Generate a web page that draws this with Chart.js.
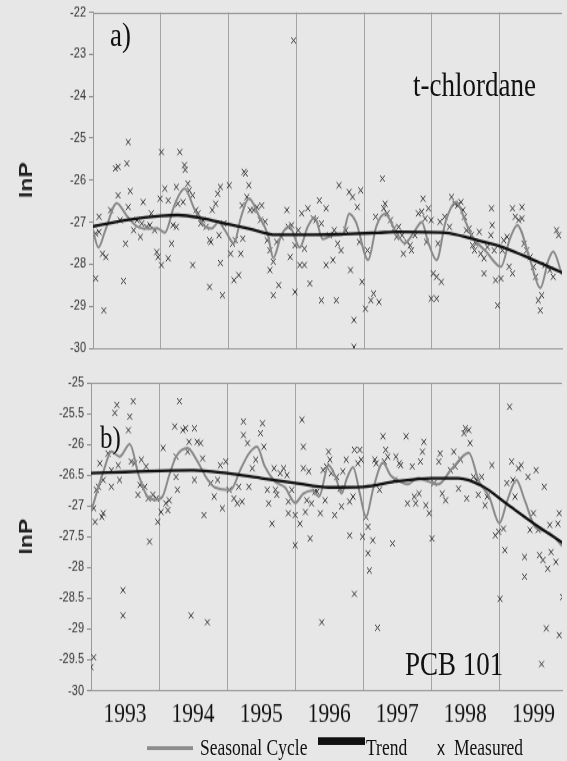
<!DOCTYPE html>
<html>
<head>
<meta charset="utf-8">
<script src="https://cdn.jsdelivr.net/npm/chart.js@4.4.1/dist/chart.umd.min.js"></script>
<style>
html, body { margin: 0; padding: 0; background: #e7e7e7; overflow: hidden; }
/* the scanned figure is stretched vertically, so the whole page is too */
#page { position: absolute; left: 0; top: 0; width: 567px; height: 595px; transform: scaleY(1.28); transform-origin: 0 0; }
canvas { position: absolute; left: 0; }
.lbl { position: absolute; font-family: 'Liberation Serif', 'Times New Roman', serif; color: #111; line-height: 1; white-space: nowrap; }
.key { position: absolute; }
</style>
</head>
<body>
<div id="page">
  <canvas id="top" width="567" height="284" style="top:0;width:567px;height:284px"></canvas>
  <canvas id="bottom" width="567" height="298" style="top:286px;width:567px;height:298px"></canvas>

  <div class="lbl" style="left:110px;top:14px;font-size:27px">a)</div>
  <div class="lbl" style="left:413px;top:53px;font-size:27px">t-chlordane</div>
  <div class="lbl" style="left:100px;top:329px;font-size:25px">b)</div>
  <div class="lbl" style="left:405px;top:505px;font-size:27px">PCB 101</div>

  <div class="key" style="left:147px;top:583px;width:46px;height:3.3px;background:#8c8c8c"></div>
  <div class="lbl" style="left:200px;top:576px;font-size:17.5px">Seasonal Cycle</div>
  <div class="key" style="left:318px;top:576px;width:47px;height:6.2px;background:#111"></div>
  <div class="lbl" style="left:366px;top:576px;font-size:17.5px">Trend</div>
  <div class="lbl" style="left:437px;top:577px;font-size:16px;font-family:'Liberation Sans',Arial,sans-serif">x</div>
  <div class="lbl" style="left:454px;top:576px;font-size:17.5px">Measured</div>
</div>
<script>
// year boundaries (grid lines) and year labels
const gridYears = [1993, 1994, 1995, 1996, 1997, 1998, 1999];
const yearLabels = ['1993', '1994', '1995', '1996', '1997', '1998', '1999'];
const xMin = 1993, xMax = 1999.92;

// panel a) t-chlordane, ln P
const chlordaneTicks = [-30, -29, -28, -27, -26, -25, -24, -23, -22];
const chlordaneMeasured = [
  [1993.04,-27.27],[1993.09,-27.23],[1993.09,-26.87],[1993.14,-27.75],[1993.19,-27.83],[1993.16,-29.10],[1993.04,-28.34],
  [1993.26,-26.71],[1993.33,-25.72],[1993.37,-25.68],[1993.37,-26.36],[1993.40,-26.95],[1993.48,-27.51],[1993.45,-28.40],
  [1993.50,-25.60],[1993.52,-25.09],[1993.52,-26.64],[1993.55,-26.26],[1993.60,-27.19],[1993.65,-26.95],[1993.70,-27.35],
  [1993.72,-27.03],[1993.74,-26.52],[1993.79,-27.11],[1993.84,-27.07],[1993.86,-26.79],[1993.91,-27.19],[1993.94,-27.71],
  [1993.96,-27.83],[1994.01,-25.33],[1994.01,-28.02],[1993.99,-26.44],[1994.06,-26.20],[1994.11,-27.86],[1994.11,-26.48],
  [1994.16,-27.51],[1994.18,-27.07],[1994.23,-26.16],[1994.23,-27.11],[1994.28,-25.33],[1994.25,-26.56],[1994.33,-26.52],
  [1994.35,-25.64],[1994.36,-25.75],[1994.40,-26.08],[1994.42,-26.24],[1994.47,-28.02],[1994.47,-26.36],[1994.52,-26.71],
  [1994.55,-26.79],[1994.59,-27.03],[1994.62,-26.95],[1994.67,-27.11],[1994.72,-27.43],[1994.74,-27.47],[1994.72,-28.54],
  [1994.76,-26.71],[1994.81,-26.56],[1994.84,-26.32],[1994.86,-27.31],[1994.88,-27.97],[1994.88,-26.16],[1994.91,-28.74],
  [1994.93,-27.03],[1995.01,-26.12],[1995.03,-27.75],[1995.06,-27.51],[1995.08,-28.38],[1995.10,-27.43],[1995.15,-28.26],
  [1995.18,-27.75],[1995.20,-26.60],[1995.23,-25.80],[1995.25,-25.84],[1995.30,-26.12],[1995.27,-26.40],[1995.32,-26.71],
  [1995.21,-27.39],[1995.37,-26.71],[1995.42,-26.64],[1995.49,-26.60],[1995.47,-26.95],[1995.54,-26.99],[1995.57,-27.43],
  [1995.61,-27.67],[1995.61,-28.14],[1995.66,-27.94],[1995.66,-28.74],[1995.74,-28.50],[1995.71,-27.47],[1995.78,-27.35],
  [1995.86,-26.71],[1995.88,-27.11],[1995.91,-27.83],[1995.93,-27.07],[1995.98,-28.66],[1995.98,-27.55],[1995.96,-22.67],
  [1996.03,-27.19],[1996.05,-28.02],[1996.08,-26.79],[1996.12,-28.02],[1996.12,-27.63],[1996.17,-26.67],[1996.20,-28.46],
  [1996.25,-26.91],[1996.29,-26.95],[1996.34,-26.48],[1996.37,-27.03],[1996.37,-28.86],[1996.44,-26.67],[1996.44,-28.02],
  [1996.49,-27.31],[1996.54,-27.90],[1996.56,-27.19],[1996.59,-28.86],[1996.61,-27.51],[1996.63,-26.12],[1996.66,-27.67],
  [1996.73,-27.19],[1996.78,-26.28],[1996.80,-28.14],[1996.83,-26.40],[1996.85,-29.33],[1996.85,-29.97],[1996.90,-26.64],
  [1996.93,-27.47],[1996.95,-26.24],[1996.97,-28.42],[1997.02,-29.06],[1997.05,-27.67],[1997.10,-28.86],[1997.14,-28.70],
  [1997.17,-26.87],[1997.22,-28.90],[1997.27,-25.96],[1997.29,-26.67],[1997.34,-26.79],[1997.31,-26.56],[1997.39,-26.95],
  [1997.44,-27.15],[1997.48,-27.35],[1997.51,-27.11],[1997.56,-27.31],[1997.58,-27.75],[1997.63,-27.47],[1997.68,-27.55],
  [1997.70,-27.67],[1997.75,-27.31],[1997.80,-26.79],[1997.85,-26.75],[1997.87,-26.44],[1997.90,-26.91],[1997.92,-27.47],
  [1997.95,-26.67],[1997.99,-26.95],[1998.02,-28.22],[1997.99,-28.82],[1998.07,-28.82],[1998.07,-28.30],[1998.09,-27.51],
  [1998.14,-28.42],[1998.12,-26.99],[1998.19,-26.87],[1998.26,-27.11],[1998.29,-26.40],[1998.34,-26.56],[1998.38,-26.60],
  [1998.43,-26.52],[1998.46,-26.71],[1998.48,-26.87],[1998.51,-27.19],[1998.55,-27.15],[1998.58,-27.31],[1998.60,-27.55],
  [1998.63,-27.67],[1998.65,-27.51],[1998.70,-27.23],[1998.72,-27.75],[1998.77,-27.86],[1998.77,-28.22],[1998.82,-27.59],
  [1998.87,-27.31],[1998.88,-26.67],[1998.89,-27.07],[1998.92,-27.67],[1998.94,-28.38],[1998.97,-28.98],[1999.02,-28.34],
  [1999.04,-27.67],[1999.06,-27.43],[1999.11,-27.35],[1999.14,-28.06],[1999.19,-26.67],[1999.19,-28.22],[1999.23,-26.87],
  [1999.28,-26.95],[1999.33,-26.64],[1999.33,-26.91],[1999.36,-27.51],[1999.40,-27.67],[1999.45,-27.83],[1999.50,-28.06],
  [1999.53,-28.30],[1999.57,-28.86],[1999.60,-29.10],[1999.62,-28.74],[1999.67,-28.02],[1999.74,-28.14],[1999.79,-28.30],
  [1999.84,-27.19],[1999.87,-27.31]
];
const chlordaneSeasonal = [
  [1993.0,-27.2],[1993.08,-27.6],[1993.18,-27.2],[1993.35,-26.55],[1993.5,-26.85],[1993.65,-27.1],[1993.8,-27.15],
  [1993.95,-27.15],[1994.06,-27.25],[1994.2,-26.6],[1994.35,-26.2],[1994.5,-26.7],[1994.65,-27.1],[1994.75,-27.15],
  [1994.85,-27.0],[1994.95,-27.2],[1995.08,-27.5],[1995.18,-26.9],[1995.3,-26.43],[1995.45,-26.85],[1995.58,-27.3],
  [1995.66,-27.85],[1995.78,-27.3],[1995.9,-27.1],[1996.05,-27.6],[1996.17,-27.1],[1996.27,-26.88],[1996.39,-27.4],
  [1996.55,-27.3],[1996.68,-27.3],[1996.78,-26.8],[1996.88,-27.0],[1997.06,-27.9],[1997.18,-27.1],[1997.31,-26.8],
  [1997.46,-27.2],[1997.6,-27.5],[1997.75,-27.2],[1997.85,-27.0],[1997.95,-27.5],[1998.07,-27.9],[1998.2,-27.0],
  [1998.36,-26.52],[1998.5,-27.0],[1998.6,-27.35],[1998.8,-27.7],[1999.02,-28.06],[1999.15,-27.4],[1999.26,-27.07],
  [1999.45,-27.9],[1999.6,-28.57],[1999.72,-27.9],[1999.79,-27.7],[1999.92,-28.25]
];
const chlordaneTrend = [
  [1993.0,-27.1],[1993.5,-26.95],[1994.0,-26.85],[1994.25,-26.83],[1994.6,-26.9],[1995.0,-27.05],[1995.3,-27.15],
  [1995.7,-27.3],[1996.2,-27.3],[1996.7,-27.28],[1997.2,-27.25],[1997.5,-27.23],[1998.2,-27.25],[1998.6,-27.4],
  [1999.06,-27.6],[1999.5,-27.9],[1999.92,-28.2]
];

// panel b) PCB 101, ln P
const pcbTicks = [-30, -29.5, -29, -28.5, -28, -27.5, -27, -26.5, -26, -25.5, -25];
const pcbMeasured = [
  [1993.04,-27.04],[1993.06,-27.26],[1993.16,-27.18],[1993.18,-27.12],[1993.04,-29.46],[1993.0,-29.62],[1993.08,-26.74],
  [1993.11,-26.69],[1993.13,-26.31],[1993.18,-26.58],[1993.25,-26.15],[1993.30,-26.69],[1993.30,-26.42],[1993.35,-25.49],
  [1993.38,-25.36],[1993.40,-26.34],[1993.42,-26.58],[1993.47,-28.37],[1993.47,-28.78],[1993.55,-25.77],[1993.57,-25.55],
  [1993.62,-25.30],[1993.59,-26.28],[1993.64,-26.31],[1993.69,-26.82],[1993.72,-26.66],[1993.74,-26.25],[1993.79,-26.69],
  [1993.81,-26.36],[1993.84,-26.88],[1993.86,-27.58],[1993.91,-26.82],[1993.96,-26.88],[1993.98,-27.26],[1994.03,-27.10],
  [1994.06,-26.06],[1994.10,-26.96],[1994.13,-27.07],[1994.15,-26.91],[1994.25,-26.20],[1994.25,-26.53],[1994.23,-25.71],
  [1994.27,-26.74],[1994.30,-25.30],[1994.35,-25.77],[1994.39,-25.74],[1994.42,-26.12],[1994.44,-25.96],[1994.47,-28.78],
  [1994.52,-25.74],[1994.52,-26.58],[1994.56,-25.96],[1994.61,-25.98],[1994.64,-26.23],[1994.66,-27.15],[1994.71,-28.89],
  [1994.76,-26.63],[1994.81,-26.85],[1994.86,-26.58],[1994.90,-26.34],[1994.93,-27.04],[1994.98,-26.28],[1995.03,-26.74],
  [1995.10,-26.88],[1995.15,-26.96],[1995.17,-26.69],[1995.22,-26.93],[1995.24,-25.63],[1995.24,-25.85],[1995.30,-25.98],
  [1995.32,-26.69],[1995.37,-26.39],[1995.42,-26.25],[1995.49,-25.82],[1995.52,-25.66],[1995.54,-26.04],[1995.59,-26.74],
  [1995.61,-26.96],[1995.66,-27.29],[1995.69,-26.39],[1995.71,-26.74],[1995.73,-26.82],[1995.78,-26.47],[1995.83,-26.39],
  [1995.88,-26.50],[1995.90,-26.93],[1995.90,-27.12],[1995.95,-26.74],[1996.00,-27.15],[1996.00,-27.64],[1996.07,-27.29],
  [1996.10,-25.60],[1996.12,-26.04],[1996.12,-26.39],[1996.15,-27.10],[1996.17,-26.91],[1996.20,-26.44],[1996.22,-27.53],
  [1996.24,-26.96],[1996.29,-26.77],[1996.32,-26.77],[1996.37,-27.12],[1996.39,-28.89],[1996.41,-26.42],[1996.44,-26.91],
  [1996.46,-26.36],[1996.49,-26.12],[1996.51,-26.25],[1996.53,-26.47],[1996.58,-27.15],[1996.61,-26.53],[1996.66,-26.72],
  [1996.68,-27.01],[1996.70,-26.44],[1996.75,-26.25],[1996.80,-27.48],[1996.80,-26.93],[1996.85,-26.85],[1996.87,-28.43],
  [1996.87,-26.09],[1996.92,-26.31],[1996.95,-26.09],[1996.97,-26.25],[1996.99,-27.50],[1997.04,-27.18],[1997.07,-27.34],
  [1997.07,-27.77],[1997.09,-28.05],[1997.14,-27.56],[1997.17,-26.25],[1997.19,-26.31],[1997.21,-28.98],[1997.24,-26.74],
  [1997.29,-25.87],[1997.31,-26.28],[1997.33,-26.09],[1997.36,-26.20],[1997.43,-27.61],[1997.46,-26.58],[1997.48,-26.20],
  [1997.53,-26.31],[1997.55,-26.34],[1997.63,-25.87],[1997.65,-26.96],[1997.72,-26.36],[1997.75,-26.85],[1997.77,-26.96],
  [1997.82,-26.80],[1997.84,-26.28],[1997.87,-26.12],[1997.89,-25.96],[1997.92,-26.99],[1997.97,-27.12],[1998.01,-27.53],
  [1998.04,-26.63],[1998.11,-26.28],[1998.13,-26.15],[1998.16,-26.80],[1998.21,-26.91],[1998.28,-26.42],[1998.33,-26.12],
  [1998.35,-26.36],[1998.40,-26.72],[1998.43,-26.25],[1998.48,-25.82],[1998.50,-25.74],[1998.55,-25.77],[1998.57,-25.98],
  [1998.52,-26.88],[1998.62,-26.53],[1998.67,-26.58],[1998.69,-26.82],[1998.74,-26.53],[1998.79,-26.99],[1998.82,-26.85],
  [1998.89,-26.34],[1998.94,-27.48],[1998.99,-27.42],[1999.01,-28.51],[1999.06,-27.37],[1999.08,-27.72],[1999.11,-26.63],
  [1999.15,-25.39],[1999.18,-26.28],[1999.20,-26.58],[1999.23,-26.85],[1999.28,-26.39],[1999.32,-26.34],[1999.37,-27.83],
  [1999.37,-28.15],[1999.42,-26.53],[1999.45,-27.39],[1999.50,-27.12],[1999.54,-26.42],[1999.57,-27.39],[1999.59,-27.80],
  [1999.64,-27.88],[1999.66,-26.69],[1999.69,-28.99],[1999.71,-28.02],[1999.74,-27.31],[1999.76,-27.75],[1999.83,-27.91],
  [1999.86,-27.29],[1999.88,-29.10],[1999.88,-27.12],[1999.62,-29.57],[1999.93,-28.48]
];
const pcbSeasonal = [
  [1993.0,-27.1],[1993.08,-26.8],[1993.18,-26.45],[1993.3,-26.12],[1993.42,-26.2],[1993.57,-26.0],[1993.7,-26.5],
  [1993.83,-26.85],[1993.95,-26.9],[1994.05,-26.85],[1994.15,-26.5],[1994.25,-26.2],[1994.42,-26.06],[1994.55,-26.25],
  [1994.7,-26.55],[1994.82,-26.7],[1995.05,-26.74],[1995.2,-26.4],[1995.32,-26.15],[1995.44,-26.04],[1995.55,-26.35],
  [1995.7,-26.6],[1995.85,-26.7],[1996.0,-26.95],[1996.12,-26.8],[1996.25,-26.75],[1996.35,-26.85],[1996.49,-26.34],
  [1996.6,-26.55],[1996.68,-26.8],[1996.76,-26.55],[1996.85,-26.37],[1996.95,-26.8],[1997.04,-27.18],[1997.15,-26.7],
  [1997.29,-26.3],[1997.4,-26.5],[1997.5,-26.58],[1997.65,-26.65],[1997.8,-26.55],[1997.95,-26.6],[1998.1,-26.65],
  [1998.3,-26.4],[1998.55,-26.14],[1998.7,-26.6],[1998.85,-26.85],[1999.0,-27.28],[1999.12,-26.9],[1999.25,-26.58],
  [1999.37,-26.9],[1999.53,-27.35],[1999.65,-27.4],[1999.8,-27.5],[1999.92,-27.65]
];
const pcbTrend = [
  [1993.0,-26.47],[1993.5,-26.45],[1994.0,-26.43],[1994.5,-26.42],[1995.0,-26.47],[1995.5,-26.55],[1996.0,-26.63],
  [1996.5,-26.7],[1997.0,-26.69],[1997.5,-26.6],[1998.0,-26.55],[1998.4,-26.55],[1998.75,-26.68],[1999.1,-26.96],
  [1999.5,-27.28],[1999.93,-27.6]
];

const toXY = arr => arr.map(([x, y]) => ({ x, y }));

// plot frame line along the top of the plot area
const topEdge = {
  id: 'topEdge',
  beforeDatasetsDraw(chart) {
    const { ctx, chartArea: a } = chart;
    ctx.save();
    ctx.strokeStyle = '#9a9a9a';
    ctx.lineWidth = 1;
    ctx.beginPath();
    ctx.moveTo(a.left, Math.round(a.top) + 0.5);
    ctx.lineTo(a.right, Math.round(a.top) + 0.5);
    ctx.stroke();
    ctx.restore();
  }
};

function makePanel(id, measured, seasonal, trend, yTicks, yWidth, padding, withYears) {
  const scales = {
    x: {
      type: 'linear', min: xMin, max: xMax,
      afterBuildTicks: s => { s.ticks = gridYears.map(v => ({ value: v })); },
      ticks: { display: false },
      grid: { color: '#a4a4a4', lineWidth: 1, drawTicks: false },
      border: { display: true, color: '#9a9a9a' }
    },
    y: {
      min: yTicks[0], max: yTicks[yTicks.length - 1],
      afterBuildTicks: s => { s.ticks = yTicks.map(v => ({ value: v })); },
      afterFit: s => { s.width = yWidth; },
      ticks: {
        color: '#333', padding: 3,
        font: { family: "'Liberation Sans', Arial, sans-serif", size: 11 },
        callback: v => String(v)
      },
      grid: { drawOnChartArea: false, drawTicks: true, tickLength: 4, color: '#8a8a8a' },
      border: { display: true, color: '#9a9a9a' },
      title: {
        display: true, text: 'lnP', color: '#222',
        font: { family: "'Liberation Sans', Arial, sans-serif", size: 18, weight: 'bold' },
        padding: { top: 16, bottom: 0 }
      }
    }
  };
  if (withYears) {
    scales.x2 = {
      type: 'linear', position: 'bottom', min: xMin, max: xMax,
      afterBuildTicks: s => { s.ticks = yearLabels.map((t, i) => ({ value: gridYears[i] + 0.5 })); },
      ticks: {
        color: '#111', padding: 8, autoSkip: false, maxRotation: 0,
        font: { family: "'Liberation Serif', 'Times New Roman', serif", size: 21.5, lineHeight: 1 },
        callback: (v, i) => yearLabels[i]
      },
      grid: { display: false, drawTicks: false },
      border: { display: false }
    };
  }
  return new Chart(document.getElementById(id), {
    type: 'scatter',
    data: {
      datasets: [
        {
          label: 'Trend', data: toXY(trend), showLine: true, order: 0,
          borderColor: '#111', borderWidth: 2.3, pointRadius: 0,
          cubicInterpolationMode: 'monotone'
        },
        {
          label: 'Seasonal Cycle', data: toXY(seasonal), showLine: true, order: 1,
          borderColor: '#8a8a8a', borderWidth: 2, pointRadius: 0,
          cubicInterpolationMode: 'monotone'
        },
        {
          label: 'Measured', data: toXY(measured), order: 2,
          pointStyle: 'crossRot', pointRadius: 3.4, borderWidth: 1,
          borderColor: '#3a3a3a', backgroundColor: '#3a3a3a'
        }
      ]
    },
    options: {
      responsive: false,
      animation: false,
      devicePixelRatio: 1,
      layout: { padding: padding },
      plugins: { legend: { display: false }, tooltip: { enabled: false } },
      scales: scales
    },
    plugins: [topEdge]
  });
}

makePanel('top', chlordaneMeasured, chlordaneSeasonal, chlordaneTrend, chlordaneTicks, 93,
  { top: 9, bottom: 12, left: 0, right: 0 }, false);
makePanel('bottom', pcbMeasured, pcbSeasonal, pcbTrend, pcbTicks, 91,
  { top: 13, bottom: 7, left: 0, right: 0 }, true);
</script>
</body>
</html>
